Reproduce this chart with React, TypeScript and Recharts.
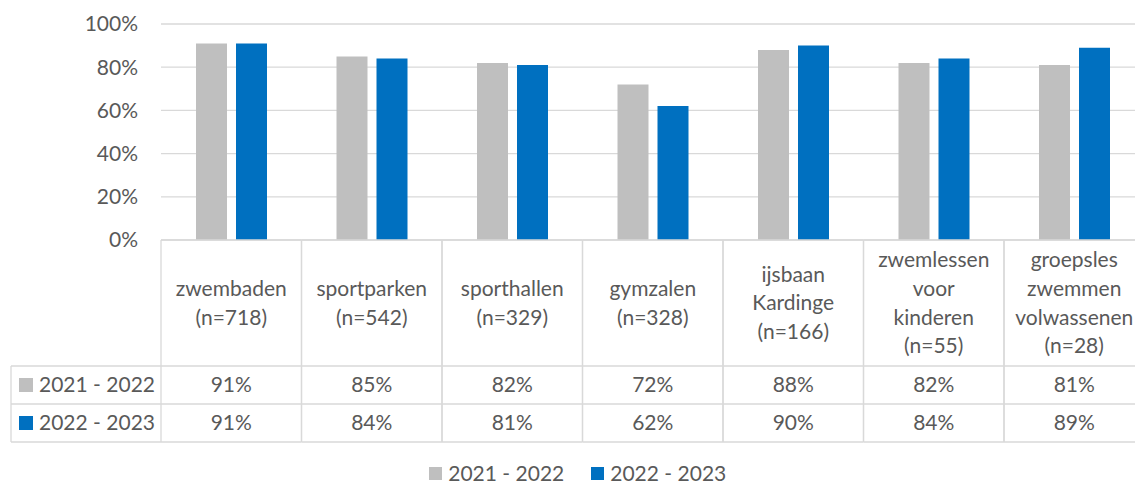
import React from "react";
import { BarChart, Bar, XAxis, YAxis, CartesianGrid, Legend } from "recharts";

const categories = [
  "zwembaden\n(n=718)",
  "sportparken\n(n=542)",
  "sporthallen\n(n=329)",
  "gymzalen\n(n=328)",
  "ijsbaan\nKardinge\n(n=166)",
  "zwemlessen\nvoor\nkinderen\n(n=55)",
  "groepsles\nzwemmen\nvolwassenen\n(n=28)",
];
const seriesNames = ["2021 - 2022", "2022 - 2023"];
const values2122 = [91, 85, 82, 72, 88, 82, 81];
const values2223 = [91, 84, 81, 62, 90, 84, 89];
const yTicks = [0, 20, 40, 60, 80, 100];

const COLORS = ["#BFBFBF", "#0070C0"];
const TEXT = "#595959";
const LINE = "#D9D9D9";
const FONT = "Lato, 'Noto Sans', sans-serif";
const FS = 21;

const W = 1150;
const H = 486;
const MARGIN = { top: 24, right: 5.5, left: 11, bottom: 0 };
const Y_W = 150;
const X_H = 206;
const LEGEND_H = 40;
const CELL_W = (W - MARGIN.left - Y_W - MARGIN.right) / categories.length;

// table rows, relative to the axis top
const HEADER_H = 126;
const ROW_H = 38;
const LINE_H = 28.7;

const data = categories.map((name, i) => ({
  name,
  a: values2122[i],
  b: values2223[i],
}));

const seriesValues = [values2122, values2223];

function TableTick(props: any) {
  const { x, y, payload, index } = props;
  const lines = String(payload.value).split("\n");
  const left = x - CELL_W / 2;
  const right = x + CELL_W / 2;
  const r1 = y + HEADER_H;
  const r2 = r1 + ROW_H;
  const r3 = r2 + ROW_H;
  const midHeader = y + HEADER_H / 2;
  const firstLine = midHeader - ((lines.length - 1) * LINE_H) / 2;
  const textStyle = { fontFamily: FONT, fontSize: FS, fill: TEXT };
  const legendLeft = MARGIN.left;

  return (
    <g>
      {[y, r1, r2, r3].map((ly) => (
        <line key={ly} x1={left} x2={right} y1={ly} y2={ly} stroke={LINE} strokeWidth={1.3} />
      ))}
      <line x1={left} x2={left} y1={y} y2={r3} stroke={LINE} strokeWidth={1.3} />
      <line x1={right} x2={right} y1={y} y2={r3} stroke={LINE} strokeWidth={1.3} />
      {lines.map((t, i) => (
        <text key={i} x={x} y={firstLine + i * LINE_H} dy="0.35em" textAnchor="middle" {...textStyle}>
          {t}
        </text>
      ))}
      {seriesValues.map((vals, s) => (
        <text key={s} x={x} y={r1 + ROW_H * s + ROW_H / 2} dy="0.35em" textAnchor="middle" {...textStyle}>
          {vals[index]}%
        </text>
      ))}
      {index === 0 && (
        <g>
          {[r1, r2, r3].map((ly) => (
            <line key={ly} x1={legendLeft} x2={left} y1={ly} y2={ly} stroke={LINE} strokeWidth={1.3} />
          ))}
          <line x1={legendLeft} x2={legendLeft} y1={r1} y2={r3} stroke={LINE} strokeWidth={1.3} />
          {seriesNames.map((n, s) => {
            const cy = r1 + ROW_H * s + ROW_H / 2;
            return (
              <g key={n}>
                <rect x={legendLeft + 8} y={cy - 7} width={14} height={14} fill={COLORS[s]} />
                <text x={legendLeft + 28} y={cy} dy="0.35em" {...textStyle}>
                  {n}
                </text>
              </g>
            );
          })}
        </g>
      )}
    </g>
  );
}

function renderLegend(props: any) {
  const { payload } = props;
  return (
    <div
      style={{
        height: LEGEND_H,
        paddingTop: 14,
        boxSizing: "border-box",
        display: "flex",
        justifyContent: "center",
        gap: 27,
        fontFamily: FONT,
        fontSize: FS,
        color: TEXT,
        lineHeight: "24px",
      }}
    >
      {payload.map((p: any) => (
        <div key={p.value} style={{ display: "flex", alignItems: "center", gap: 6 }}>
          <span style={{ width: 13, height: 13, background: p.color, display: "inline-block" }} />
          <span>{p.value}</span>
        </div>
      ))}
    </div>
  );
}

export default function App() {
  return (
    <div
      style={{
        position: "absolute",
        left: 0,
        top: 0,
        width: 1135,
        height: H,
        overflow: "hidden",
        background: "#fff",
      }}
    >
      <BarChart width={W} height={H} data={data} margin={MARGIN} barSize={31} barGap={9}>
        <CartesianGrid horizontal vertical={false} stroke={LINE} strokeWidth={1.3} />
        <XAxis
          dataKey="name"
          height={X_H}
          axisLine={false}
          tickLine={false}
          tickSize={0}
          tickMargin={0}
          interval={0}
          tick={<TableTick />}
        />
        <YAxis
          width={Y_W}
          domain={[0, 100]}
          ticks={yTicks}
          tickFormatter={(v: number) => `${v}%`}
          axisLine={false}
          tickLine={false}
          tickSize={0}
          tickMargin={23}
          tick={{ fill: TEXT, fontSize: FS, fontFamily: FONT }}
        />
        <Legend verticalAlign="bottom" height={LEGEND_H} content={renderLegend} />
        <Bar dataKey="a" name={seriesNames[0]} fill={COLORS[0]} isAnimationActive={false} />
        <Bar dataKey="b" name={seriesNames[1]} fill={COLORS[1]} isAnimationActive={false} />
      </BarChart>
    </div>
  );
}
